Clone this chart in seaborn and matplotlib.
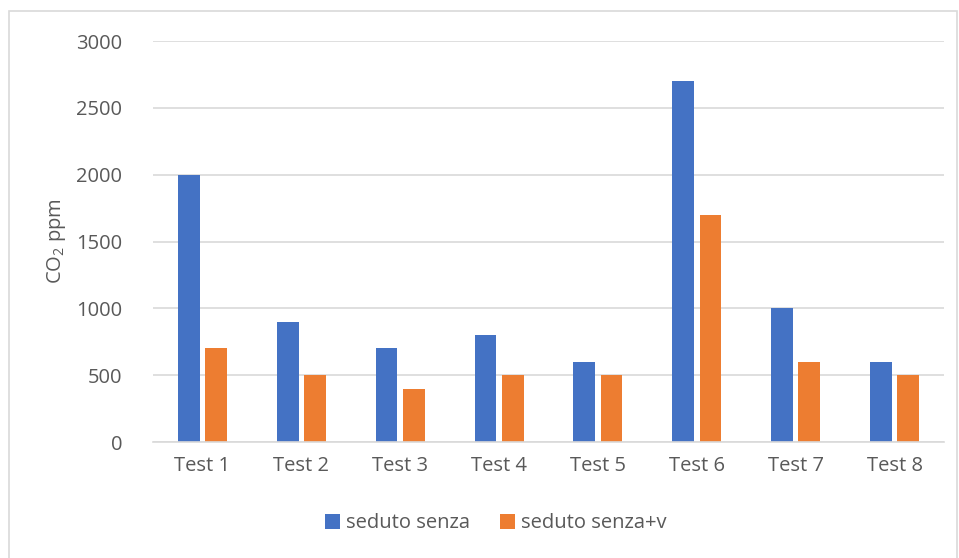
import matplotlib
matplotlib.use("Agg")
import matplotlib.pyplot as plt
import seaborn as sns
import pandas as pd
from matplotlib.patches import Rectangle

categories = ["Test 1", "Test 2", "Test 3", "Test 4", "Test 5", "Test 6", "Test 7", "Test 8"]
seduto_senza = [2000, 900, 700, 800, 600, 2700, 1000, 600]
seduto_senza_v = [700, 500, 400, 500, 500, 1700, 600, 500]
series_names = ["seduto senza", "seduto senza+v"]
yticks = [0, 500, 1000, 1500, 2000, 2500, 3000]

df = pd.DataFrame({
    "cat": categories * 2,
    "val": seduto_senza + seduto_senza_v,
    "series": [series_names[0]] * len(categories) + [series_names[1]] * len(categories),
})

sns.set_theme(style="white")
plt.rcParams["font.family"] = ["Open Sans", "DejaVu Sans"]
plt.rcParams["mathtext.fontset"] = "custom"
plt.rcParams["mathtext.rm"] = "Open Sans"
plt.rcParams["mathtext.it"] = "Open Sans"

txt = "#595959"
grid = "#d9d9d9"
fs = 14.5

fig = plt.figure(figsize=(9.59, 5.58), dpi=100)
ax = fig.add_axes([153/959, 1 - 442/558, (944 - 153)/959, (442 - 41)/558])

sns.barplot(data=df, x="cat", y="val", hue="series", order=categories,
            hue_order=series_names, palette=["#4472C4", "#ED7D31"],
            width=0.55, gap=0.2, ax=ax, errorbar=None, saturation=1, linewidth=0)

ax.set_ylim(0, 3000)
ax.set_yticks(yticks)
ax.set_xlim(-0.5, len(categories) - 0.5)
ax.yaxis.grid(True, color=grid, linewidth=1.2)
ax.set_axisbelow(True)
for s in ["top", "right", "left"]:
    ax.spines[s].set_visible(False)
ax.spines["bottom"].set_color(grid)
ax.spines["bottom"].set_linewidth(1.2)
ax.tick_params(axis="both", length=0, colors=txt, labelsize=fs)
ax.tick_params(axis="x", pad=10)
ax.tick_params(axis="y", pad=22)
ax.set_xlabel("")
ax.set_ylabel("CO$_2$ ppm", color=txt, fontsize=fs, labelpad=6)

leg = ax.legend(loc="center", bbox_to_anchor=(0.433, -0.203), ncol=2, frameon=False,
                fontsize=fs, handlelength=0.75, handleheight=0.75, columnspacing=1.5,
                handletextpad=0.3)
for t in leg.get_texts():
    t.set_color(txt)

fig.patches.append(Rectangle((9/959, -0.05), (957 - 9)/959, 1.05 - 11/558,
                             transform=fig.transFigure, fill=False,
                             edgecolor=grid, linewidth=1.2))

fig.savefig("out.png", dpi=100)
